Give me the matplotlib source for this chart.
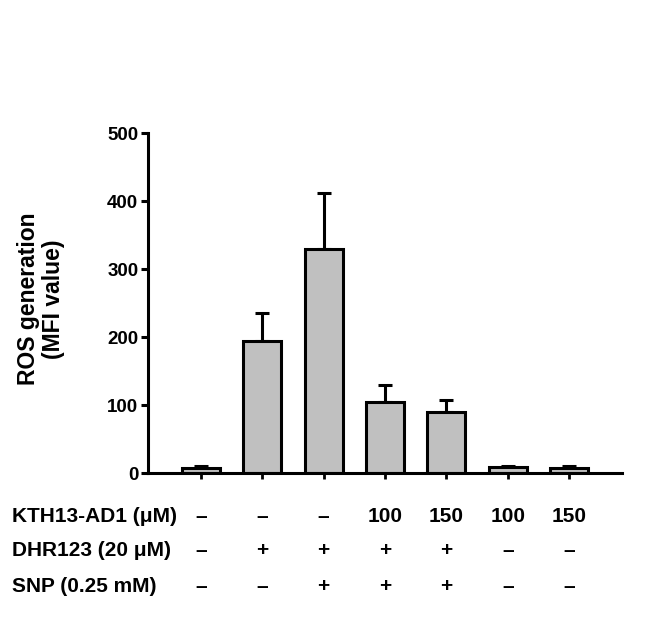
import matplotlib
matplotlib.use("Agg")
import matplotlib.pyplot as plt
import numpy as np

plt.rcParams['font.family'] = ['Liberation Sans', 'DejaVu Sans']

values = [8, 194, 330, 105, 89, 9, 8]
errors = [2, 41, 82, 25, 18, 2, 2]
row_labels = ["KTH13-AD1 (\u03bcM)", "DHR123 (20 \u03bcM)", "SNP (0.25 mM)"]
row_kth = ["\u2013", "\u2013", "\u2013", "100", "150", "100", "150"]
row_dhr = ["\u2013", "+", "+", "+", "+", "\u2013", "\u2013"]
row_snp = ["\u2013", "\u2013", "+", "+", "+", "\u2013", "\u2013"]
yticks = [0, 100, 200, 300, 400, 500]

fig = plt.figure(figsize=(6.65, 6.17), dpi=100)
ax = fig.add_axes([148/665, 1-473/617, (622-148)/665, (473-133)/617])

x = np.arange(len(values))
ax.bar(x, values, width=0.62, color="#c0c0c0", edgecolor="black", linewidth=2.2, zorder=2)
ax.errorbar(x, values, yerr=[np.zeros(len(errors)), errors], fmt="none",
            ecolor="black", elinewidth=2.2, capsize=5, capthick=2.2, zorder=1)

ax.set_xlim(-0.86, 6.86)
ax.set_ylim(0, 500)
ax.set_yticks(yticks)
ax.set_yticklabels([str(t) for t in yticks], fontsize=13.5, fontweight="bold")
ax.set_xticks(x)
ax.set_xticklabels([])
for s in ["top", "right"]:
    ax.spines[s].set_visible(False)
for s in ["left", "bottom"]:
    ax.spines[s].set_linewidth(2.2)
ax.tick_params(axis="y", direction="out", length=5, width=2.2, pad=2)
ax.tick_params(axis="x", direction="out", length=4, width=2.0)
fig.text(41/665, 1-299/617, "ROS generation\n(MFI value)", fontsize=16.5, fontweight="bold",
         rotation=90, ha="center", va="center", linespacing=1.1)

rows = [row_kth, row_dhr, row_snp]
ys = [516, 551, 587]
for lab, row, yp in zip(row_labels, rows, ys):
    fy = 1 - yp/617
    fig.text(12/665, fy, lab, fontsize=15, fontweight="bold", ha="left", va="center")
    for i, t in enumerate(row):
        xd = ax.transData.transform((i, 0))[0]
        xf = fig.transFigure.inverted().transform((xd, 0))[0]
        fig.text(xf, fy, t, fontsize=15, fontweight="bold", ha="center", va="center")

fig.savefig("out.png", dpi=100)
